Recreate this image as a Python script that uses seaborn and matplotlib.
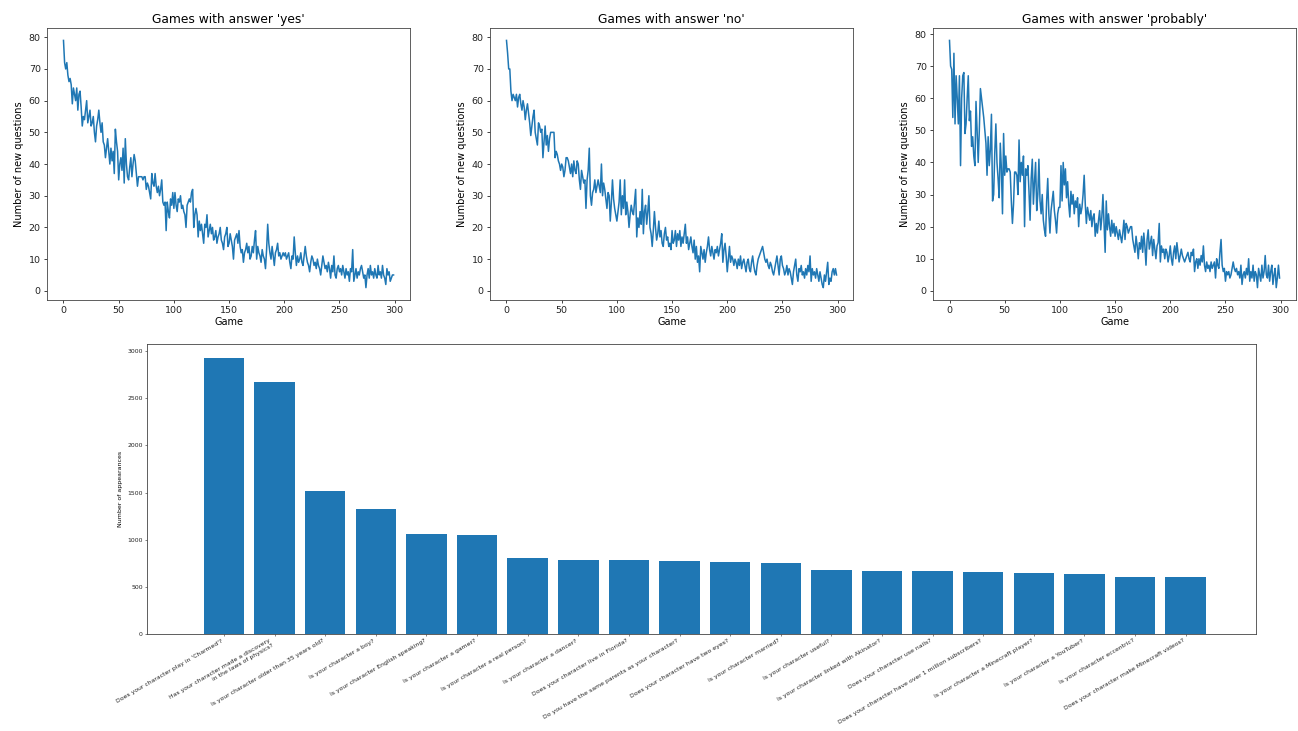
import numpy as np
import pandas as pd
import matplotlib
matplotlib.use("Agg")
import matplotlib.pyplot as plt
import seaborn as sns

# new questions per game
yes_counts = [
    79, 72, 70, 72, 68, 66, 67, 65, 59, 64,
    62, 60, 64, 57, 62, 63, 58, 52, 55, 54,
    57, 60, 53, 55, 57, 52, 53, 55, 50, 47,
    52, 54, 57, 53, 50, 53, 47, 46, 42, 45,
    48, 44, 40, 45, 41, 44, 37, 51, 47, 44,
    35, 40, 42, 38, 45, 34, 48, 40, 36, 35,
    39, 42, 36, 40, 43, 41, 37, 33, 36, 36,
    36, 36, 35, 36, 36, 32, 34, 33, 31, 29,
    37, 34, 33, 37, 33, 31, 33, 30, 32, 35,
    28, 27, 28, 19, 28, 25, 23, 29, 27, 31,
    26, 31, 27, 25, 29, 28, 30, 26, 27, 25,
    24, 20, 27, 28, 29, 28, 31, 32, 20, 24,
    26, 24, 17, 22, 19, 21, 18, 15, 21, 20,
    24, 17, 19, 21, 18, 20, 16, 17, 19, 15,
    17, 18, 20, 16, 15, 13, 17, 18, 20, 14,
    15, 18, 16, 14, 10, 16, 17, 18, 15, 19,
    14, 12, 13, 9, 12, 13, 15, 12, 14, 10,
    11, 14, 12, 16, 19, 10, 14, 12, 11, 9,
    13, 11, 10, 7, 13, 21, 15, 12, 10, 14,
    11, 8, 12, 13, 15, 11, 12, 10, 11, 12,
    11, 12, 10, 11, 12, 9, 7, 11, 10, 17,
    12, 8, 11, 9, 10, 12, 9, 8, 11, 14,
    11, 9, 8, 6, 9, 11, 10, 8, 9, 7,
    10, 8, 7, 5, 8, 11, 9, 7, 8, 6,
    9, 7, 4, 8, 6, 11, 5, 4, 7, 8,
    6, 7, 5, 8, 6, 4, 7, 5, 6, 3,
    7, 6, 13, 3, 5, 7, 4, 6, 5, 7,
    8, 6, 4, 5, 1, 5, 7, 4, 8, 5,
    6, 4, 7, 5, 4, 8, 5, 6, 4, 8,
    5, 4, 2, 7, 5, 6, 3, 4, 5, 5,
]

no_counts = [
    79, 75, 70, 70, 63, 60, 62, 61, 60, 62,
    58, 61, 62, 59, 57, 60, 58, 54, 57, 59,
    56, 53, 49, 52, 55, 57, 50, 48, 46, 53,
    52, 50, 51, 42, 47, 52, 46, 49, 44, 48,
    50, 50, 50, 50, 42, 44, 43, 41, 40, 38,
    40, 39, 36, 38, 42, 42, 41, 39, 37, 40,
    36, 41, 38, 37, 41, 40, 35, 32, 38, 36,
    34, 35, 26, 35, 38, 45, 30, 27, 31, 32,
    35, 31, 33, 35, 33, 31, 40, 30, 34, 32,
    29, 26, 31, 30, 22, 28, 35, 29, 26, 24,
    22, 25, 28, 35, 24, 30, 26, 35, 24, 28,
    25, 20, 24, 27, 25, 24, 28, 32, 17, 23,
    20, 25, 21, 32, 18, 25, 27, 21, 25, 30,
    20, 18, 14, 19, 25, 20, 16, 18, 22, 17,
    19, 15, 14, 18, 20, 16, 17, 14, 15, 13,
    19, 15, 16, 19, 14, 18, 16, 19, 14, 17,
    15, 18, 21, 15, 17, 13, 15, 17, 14, 12,
    16, 10, 14, 9, 11, 6, 14, 12, 10, 13,
    9, 12, 14, 17, 13, 11, 14, 12, 10, 13,
    12, 14, 11, 13, 15, 18, 9, 13, 15, 11,
    6, 10, 14, 9, 11, 10, 8, 10, 9, 7,
    10, 8, 11, 7, 9, 10, 8, 6, 9, 10,
    7, 6, 9, 11, 8, 6, 5, 8, 10, 11,
    12, 13, 14, 12, 10, 9, 10, 8, 7, 9,
    8, 6, 5, 7, 9, 11, 8, 5, 10, 11,
    8, 7, 5, 6, 8, 5, 7, 6, 4, 2,
    6, 8, 10, 5, 3, 7, 6, 8, 5, 6,
    4, 7, 5, 8, 6, 11, 3, 7, 5, 6,
    4, 7, 5, 3, 6, 4, 2, 1, 5, 3,
    6, 9, 2, 4, 3, 6, 7, 5, 7, 5,
]

probably_counts = [
    78, 70, 69, 54, 74, 52, 67, 60, 52, 67,
    39, 60, 67, 68, 49, 52, 60, 67, 53, 56,
    45, 48, 42, 39, 59, 50, 40, 50, 63, 60,
    57, 54, 50, 46, 36, 48, 39, 44, 55, 28,
    30, 43, 52, 40, 35, 29, 46, 38, 24, 49,
    36, 42, 37, 38, 38, 37, 28, 21, 27, 37,
    37, 36, 30, 47, 34, 40, 36, 42, 20, 38,
    36, 39, 31, 22, 35, 41, 27, 34, 40, 25,
    30, 41, 28, 24, 30, 22, 19, 17, 28, 35,
    24, 18, 25, 28, 31, 25, 22, 18, 24, 26,
    26, 39, 28, 40, 33, 38, 29, 34, 27, 23,
    31, 27, 30, 24, 28, 26, 29, 20, 27, 24,
    26, 30, 36, 27, 21, 26, 24, 22, 25, 20,
    23, 24, 17, 21, 18, 22, 25, 19, 23, 30,
    21, 12, 28, 19, 24, 20, 17, 22, 18, 21,
    17, 20, 18, 16, 19, 17, 15, 18, 22, 16,
    21, 20, 18, 19, 20, 20, 16, 14, 12, 17,
    14, 10, 15, 13, 17, 12, 18, 14, 8, 16,
    19, 13, 15, 17, 11, 16, 13, 10, 14, 15,
    21, 9, 14, 12, 13, 10, 13, 12, 9, 11,
    14, 10, 8, 12, 14, 10, 15, 12, 9, 11,
    13, 11, 10, 9, 10, 11, 12, 10, 9, 12,
    11, 13, 6, 9, 10, 7, 10, 8, 11, 9,
    14, 8, 6, 9, 7, 8, 6, 9, 7, 8,
    9, 4, 10, 8, 7, 12, 16, 8, 6, 7,
    3, 6, 5, 6, 4, 5, 7, 9, 7, 6,
    7, 5, 6, 4, 8, 2, 5, 6, 4, 7,
    5, 10, 3, 6, 4, 8, 3, 6, 5, 1,
    7, 5, 3, 8, 4, 6, 11, 5, 4, 8,
    3, 6, 8, 2, 5, 7, 1, 4, 8, 4,
]

games = list(range(len(yes_counts)))

questions = [
    "Does your character play in 'Charmed'?",
    "Has your character made a discovery\nin the laws of physics?",
    "Is your character older than 35 years old?",
    "Is your character a boy?",
    "Is your character English speaking?",
    "Is your character a gamer?",
    "Is your character a real person?",
    "Is your character a dancer?",
    "Does your character live in Florida?",
    "Do you have the same parents as your character?",
    "Does your character have two eyes?",
    "Is your character married?",
    "Is your character useful?",
    "Is your character linked with Akinator?",
    "Does your character use nails?",
    "Does your character have over 1 million subscribers?",
    "Is your character a Minecraft player?",
    "Is your character a YouTuber?",
    "Is your character eccentric?",
    "Does your character make Minecraft videos?",
]
appearances = [2930, 2675, 1515, 1325, 1065, 1050, 805, 785, 785, 770,
               760, 755, 675, 665, 665, 660, 650, 635, 600, 600]

blue = "#1f77b4"
edge = "#444444"

fig = plt.figure(figsize=(12.98, 7.31), dpi=100)

panels = [
    ("yes", yes_counts, 0.0362),
    ("no", no_counts, 0.3775),
    ("probably", probably_counts, 0.7188),
]
for answer, counts, left in panels:
    ax = fig.add_axes([left, 0.5896, 0.2797, 0.372])
    sns.lineplot(x=games, y=counts, ax=ax, color=blue, linewidth=1.1)
    ax.set_title(f"Games with answer '{answer}'", fontsize=8.8, pad=4)
    ax.set_xlabel("Game", fontsize=7, labelpad=1.5)
    ax.set_ylabel("Number of new questions", fontsize=7, labelpad=3)
    ax.set_xticks([0, 50, 100, 150, 200, 250, 300])
    ax.set_yticks([0, 10, 20, 30, 40, 50, 60, 70, 80])
    ax.tick_params(labelsize=6.8, length=2.5, width=0.6, pad=2, colors="#222222")
    for s in ax.spines.values():
        s.set_linewidth(0.6)
        s.set_color(edge)

# most asked questions
ax = fig.add_axes([0.1133, 0.1327, 0.8544, 0.3967])
df = pd.DataFrame({"question": questions, "count": appearances})
sns.barplot(data=df, x="question", y="count", order=questions, ax=ax,
            color=blue, saturation=1, width=0.8)
ax.set_xlim(-1.52, 20.39)
ax.set_ylim(0, 3076)
ax.set_yticks([0, 500, 1000, 1500, 2000, 2500, 3000])
ax.set_xlabel("")
ax.set_ylabel("Number of appearances", fontsize=4.5, labelpad=3)
ax.tick_params(labelsize=4.4, length=1.5, width=0.4, pad=1.5, colors="#222222")
plt.setp(ax.get_xticklabels(), rotation=30, ha="right", rotation_mode="default")
for s in ax.spines.values():
    s.set_linewidth(0.6)
    s.set_color(edge)

fig.savefig("out.png", dpi=100)
